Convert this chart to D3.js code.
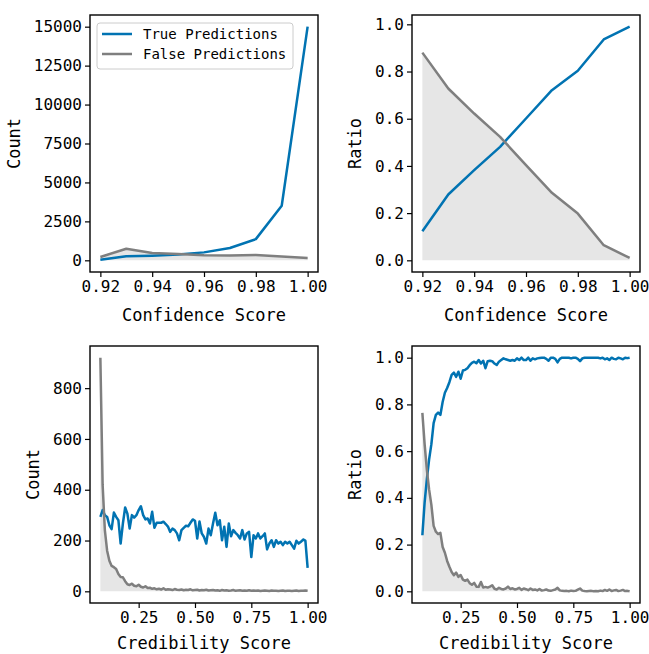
<!DOCTYPE html>
<html>
<head>
<meta charset="utf-8">
<script src="https://cdn.jsdelivr.net/npm/d3@7"></script>
<style>
  body { margin: 0; background: #fff; }
  svg text { font-family: "DejaVu Sans Mono", monospace; fill: #000; }
</style>
</head>
<body>
<svg id="chart" width="649" height="654"></svg>
<script>
// Confidence score bins (top row)
const confScores = [0.92, 0.93, 0.94, 0.95, 0.96, 0.97, 0.98, 0.99, 1.00];
const confTrueCount = [30, 256, 300, 370, 510, 790, 1360, 3500, 15000];
const confFalseCount = [215, 745, 470, 400, 320, 310, 340, 240, 150];
const confTrueRatio = [0.123, 0.279, 0.382, 0.481, 0.601, 0.721, 0.803, 0.936, 0.99];
const confFalseRatio = [0.88, 0.728, 0.622, 0.523, 0.403, 0.286, 0.198, 0.064, 0.01];

// Credibility score bins (bottom row), 0.08 .. 1.00 by 0.01
const credStart = 0.08, credStep = 0.01;
const credTrueCount = [
  293, 320, 300, 293, 260, 245, 310, 293, 280, 188,
  267, 330, 306, 247, 300, 290, 300, 320, 335, 300,
  283, 287, 267, 313, 250, 270, 270, 270, 274, 265,
  255, 234, 247, 241, 228, 201, 241, 250, 258, 256,
  270, 283, 278, 208, 275, 228, 214, 188, 247, 221,
  267, 309, 260, 280, 201, 254, 175, 267, 217, 241,
  230, 221, 208, 241, 204, 228, 234, 135, 221, 208,
  228, 208, 217, 228, 165, 188, 201, 175, 201, 188,
  195, 182, 195, 188, 195, 182, 168, 199, 188, 195,
  204, 200, 92];
const credFalseCount = [
  920, 420, 240, 160, 120, 100, 95, 88, 68, 56,
  55, 40, 28, 25, 30, 22, 20, 26, 18, 15,
  20, 13, 14, 10, 12, 8, 10, 7, 12, 6,
  8, 7, 5, 9, 6, 5, 7, 4, 6, 5,
  8, 4, 5, 6, 3, 5, 4, 6, 3, 4,
  5, 3, 4, 2, 5, 3, 4, 2, 3, 5,
  2, 3, 4, 2, 3, 2, 4, 2, 3, 2,
  3, 1, 2, 3, 2, 1, 3, 2, 2, 1,
  2, 3, 1, 2, 2, 1, 2, 3, 1, 2,
  2, 3, 2];
const credTrueRatio = [
  0.24, 0.38, 0.48, 0.565, 0.63, 0.72, 0.755, 0.765, 0.755, 0.81,
  0.85, 0.87, 0.895, 0.926, 0.936, 0.918, 0.94, 0.91, 0.945, 0.948,
  0.955, 0.968, 0.978, 0.983, 0.976, 0.99, 0.975, 0.987, 0.955, 0.985,
  0.987, 0.985, 0.975, 0.969, 0.983, 0.99, 0.997, 0.993, 0.99, 0.987,
  0.99, 0.987, 0.997, 0.99, 1.0, 0.99, 0.99, 1.0, 0.987, 0.997,
  0.993, 0.997, 0.999, 1.0, 1.0, 0.995, 0.987, 1.0, 1.0, 0.995,
  0.98, 0.995, 1.0, 1.0, 1.0, 1.0, 0.997, 1.0, 1.0, 0.995,
  0.985, 0.997, 1.0, 1.0, 1.0, 1.0, 1.0, 1.0, 1.0, 0.997,
  1.0, 0.993, 0.997, 0.99, 1.0, 0.995, 0.993, 1.0, 0.997, 0.993,
  1.0, 0.998, 1.0];
const credFalseRatio = [
  0.764, 0.63, 0.52, 0.435, 0.37, 0.28, 0.255, 0.245, 0.25, 0.19,
  0.165, 0.13, 0.105, 0.083, 0.069, 0.08, 0.062, 0.07, 0.05, 0.045,
  0.05, 0.035, 0.028, 0.036, 0.02, 0.019, 0.04, 0.016, 0.019, 0.016,
  0.02, 0.026, 0.011, 0.008, 0.015, 0.01, 0.008, 0.012, 0.02, 0.01,
  0.013, 0.008, 0.01, 0.015, 0.006, 0.012, 0.009, 0.005, 0.012, 0.006,
  0.008, 0.004, 0.01, 0.003, 0.005, 0.008, 0.003, 0.002, 0.005, 0.008,
  0.015, 0.004, 0.002, 0.001, 0.002, 0.0, 0.003, 0.001, 0.002, 0.007,
  0.012, 0.003, 0.001, 0.0, 0.001, 0.002, 0.0, 0.001, 0.0, 0.003,
  0.001, 0.006, 0.002, 0.008, 0.001, 0.004, 0.006, 0.001, 0.003, 0.006,
  0.001, 0.002, 0.0];
const credScores = credTrueCount.map((_, i) => +(credStart + i * credStep).toFixed(2));

const confTicks = [0.92, 0.94, 0.96, 0.98, 1.00];
const credTicks = [0.25, 0.50, 0.75, 1.00];
const countTicksTop = [0, 2500, 5000, 7500, 10000, 12500, 15000];
const countTicksBottom = [0, 200, 400, 600, 800];
const ratioTicks = [0, 0.2, 0.4, 0.6, 0.8, 1.0];

const BLUE = "#0173b2", GRAY = "#7f7f7f";
const svg = d3.select("#chart");

// matplotlib-style 5% margins
function padded(lo, hi) {
  const m = (hi - lo) * 0.05;
  return [lo - m, hi + m];
}

function drawPanel(p) {
  const g = svg.append("g").attr("transform", `translate(${p.left},${p.top})`);
  const w = p.width, h = p.height;
  const x = d3.scaleLinear().domain(padded(d3.min(p.xs), d3.max(p.xs))).range([0, w]);
  const allY = p.trueVals.concat(p.falseVals, [0]);
  const y = d3.scaleLinear().domain(padded(d3.min(allY), d3.max(allY))).range([h, 0]);

  const pts = (vals) => vals.map((v, i) => [p.xs[i], v]);

  // fill under false predictions
  g.append("path")
    .datum(pts(p.falseVals))
    .attr("fill", "#808080")
    .attr("fill-opacity", 0.2)
    .attr("d", d3.area().x(d => x(d[0])).y0(y(0)).y1(d => y(d[1])));

  g.append("path")
    .datum(pts(p.trueVals))
    .attr("fill", "none")
    .attr("stroke", BLUE)
    .attr("stroke-width", 2.5)
    .attr("stroke-linejoin", "round")
    .attr("d", d3.line().x(d => x(d[0])).y(d => y(d[1])));

  g.append("path")
    .datum(pts(p.falseVals))
    .attr("fill", "none")
    .attr("stroke", GRAY)
    .attr("stroke-width", 2.5)
    .attr("stroke-linejoin", "round")
    .attr("d", d3.line().x(d => x(d[0])).y(d => y(d[1])));

  // axes
  const xAxis = g.append("g").attr("transform", `translate(0,${h})`)
    .call(d3.axisBottom(x).tickValues(p.xTicks).tickFormat(d3.format(".2f")).tickSize(5).tickPadding(4));
  const yAxis = g.append("g")
    .call(d3.axisLeft(y).tickValues(p.yTicks).tickFormat(p.yFormat).tickSize(5).tickPadding(3));
  [xAxis, yAxis].forEach(a => {
    a.select(".domain").remove();
    a.selectAll("line").attr("stroke", "#000").attr("stroke-width", 1.2);
    a.selectAll("text").attr("font-size", 16).attr("font-family", "DejaVu Sans Mono").attr("fill", "#000");
  });

  g.append("rect")
    .attr("width", w).attr("height", h)
    .attr("fill", "none").attr("stroke", "#000").attr("stroke-width", 1.4);

  g.append("text")
    .attr("x", w / 2).attr("y", h + p.xLabelOffset)
    .attr("text-anchor", "middle").attr("font-size", 17)
    .text(p.xLabel);

  const bb = yAxis.node().getBBox();
  g.append("text")
    .attr("transform", `translate(${bb.x - 14},${h / 2}) rotate(-90)`)
    .attr("text-anchor", "middle").attr("font-size", 17)
    .text(p.yLabel);

  return g;
}

const W = 228, H = 257;
const tl = drawPanel({ left: 90, top: 15, width: W, height: H, xs: confScores,
  trueVals: confTrueCount, falseVals: confFalseCount, xTicks: confTicks,
  yTicks: countTicksTop, yFormat: d3.format("d"), xLabel: "Confidence Score", yLabel: "Count",
  xLabelOffset: 49 });
drawPanel({ left: 412, top: 15, width: W, height: H, xs: confScores,
  trueVals: confTrueRatio, falseVals: confFalseRatio, xTicks: confTicks,
  yTicks: ratioTicks, yFormat: d3.format(".1f"), xLabel: "Confidence Score", yLabel: "Ratio",
  xLabelOffset: 49 });
drawPanel({ left: 90, top: 346, width: W, height: H, xs: credScores,
  trueVals: credTrueCount, falseVals: credFalseCount, xTicks: credTicks,
  yTicks: countTicksBottom, yFormat: d3.format("d"), xLabel: "Credibility Score", yLabel: "Count",
  xLabelOffset: 46 });
drawPanel({ left: 412, top: 346, width: W, height: H, xs: credScores,
  trueVals: credTrueRatio, falseVals: credFalseRatio, xTicks: credTicks,
  yTicks: ratioTicks, yFormat: d3.format(".1f"), xLabel: "Credibility Score", yLabel: "Ratio",
  xLabelOffset: 46 });

// legend in the first panel
const legendItems = [["True Predictions", BLUE], ["False Predictions", GRAY]];
const lg = tl.append("g").attr("transform", "translate(7,8)");
lg.append("rect").attr("width", 196).attr("height", 46).attr("rx", 3)
  .attr("fill", "#fff").attr("fill-opacity", 0.8).attr("stroke", "#cccccc");
legendItems.forEach(([name, color], i) => {
  const yy = 11 + i * 20;
  lg.append("line").attr("x1", 5).attr("x2", 35).attr("y1", yy).attr("y2", yy)
    .attr("stroke", color).attr("stroke-width", 2.5);
  lg.append("text").attr("x", 46).attr("y", yy).attr("dy", "0.35em")
    .attr("font-size", 14).text(name);
});
</script>
</body>
</html>
